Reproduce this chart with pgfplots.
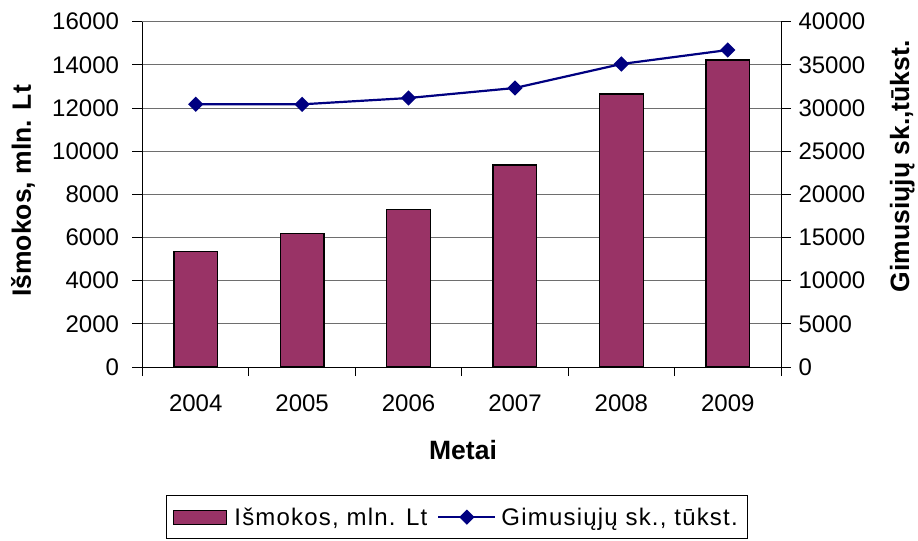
\documentclass[border=0pt]{standalone}
\usepackage{pgfplots}
\pgfplotsset{compat=1.18}
\usepackage{fontspec}
\setmainfont{Liberation Sans}
\newfontfamily\legfont[LetterSpace=5]{Liberation Sans}

\definecolor{barcol}{RGB}{153,51,102}
\definecolor{linecol}{RGB}{0,0,128}
\definecolor{gridcol}{RGB}{110,110,110}

\pgfplotsset{
  common/.style={
    scale only axis, width=638.5bp, height=345.3bp,
    xmin=-0.5, xmax=5.5,
    scaled y ticks=false,
    /pgf/number format/assume math mode=true,
    /pgf/number format/1000 sep={},
    tick align=outside,
    major tick length=10bp, minor tick length=9bp,
    tick style={black, line width=0.9bp},
    axis line style={black, line width=1bp},
    tick label style={font=\fontsize{24bp}{28bp}\selectfont},
    label style={font=\fontsize{26.5bp}{30bp}\selectfont\bfseries},
  },
  barlegend/.style={legend image code/.code={
    \path[draw=none, fill=none] (-2bp,0bp) -- (56bp,0bp);
    \draw[##1] (0bp,-7bp) rectangle (53bp,7bp);}},
  linelegend/.style={legend image code/.code={
    \path[draw=none, fill=none] (-6bp,0bp) -- (57bp,0bp);
    \draw[##1, mark=none] (0bp,0bp) -- (57bp,0bp);
    \draw[##1, only marks] plot coordinates {(28.5bp,0bp)};}},
}

\begin{document}
\begin{tikzpicture}
% bars: left axis
\begin{axis}[common,
  ybar, bar width=0.41,
  axis x line*=bottom, axis y line*=left,
  ymin=0, ymax=16000, ytick distance=2000,
  ymajorgrids, major grid style={gridcol, line width=0.9bp},
  xtick={0,...,5}, xticklabels={2004,2005,2006,2007,2008,2009},
  major x tick style={draw=none},
  minor xtick={-0.5,0.5,...,5.5},
  xticklabel style={yshift=-14bp},
  yticklabel style={xshift=-10bp},
  xlabel={Metai},
  xlabel style={at={(axis description cs:0.502,-0.240)}, anchor=center},
  ylabel={Išmokos, mln. Lt},
  ylabel style={at={(axis description cs:-0.187,0.51)}, anchor=center},
  legend columns=2,
  legend style={at={(axis description cs:0.0368,-0.3715)}, anchor=north west,
    draw=black, line width=0.8bp, inner xsep=5bp, inner ysep=10bp,
    font=\fontsize{24bp}{28bp}\legfont,
    nodes={inner xsep=5bp},
    /tikz/every even column/.append style={column sep=0bp}},
]
\addplot[fill=barcol, draw=black, line width=1.3bp, barlegend]
  coordinates {(0,5347) (1,6182) (2,7295) (3,9354) (4,12650) (5,14225)};
\addlegendentry{Išmokos, mln. Lt}
\addlegendimage{linecol, line width=2.2bp, mark=square*, mark size=4.3bp,
  mark options={rotate=45, solid}, linelegend}
\addlegendentry{Gimusiųjų sk., tūkst.}
\end{axis}

% line: right axis
\begin{axis}[common,
  axis x line=none, axis y line*=right,
  ymin=0, ymax=40000, ytick distance=5000,
  xtick=\empty,
  yticklabel style={xshift=4bp},
  ylabel={Gimusiųjų sk.,tūkst.},
  ylabel style={at={(axis description cs:1.190,0.5807)}, anchor=center},
]
\addplot[linecol, line width=2.2bp, mark=square*, mark size=4.3bp,
  mark options={rotate=45}]
  coordinates {(0,30430) (1,30430) (2,31160) (3,32320) (4,35100) (5,36720)};
\end{axis}

\pgfresetboundingbox
\path[use as bounding box] (-142.5bp,-174bp) rectangle (775.5bp,367bp);
\end{tikzpicture}
\end{document}
